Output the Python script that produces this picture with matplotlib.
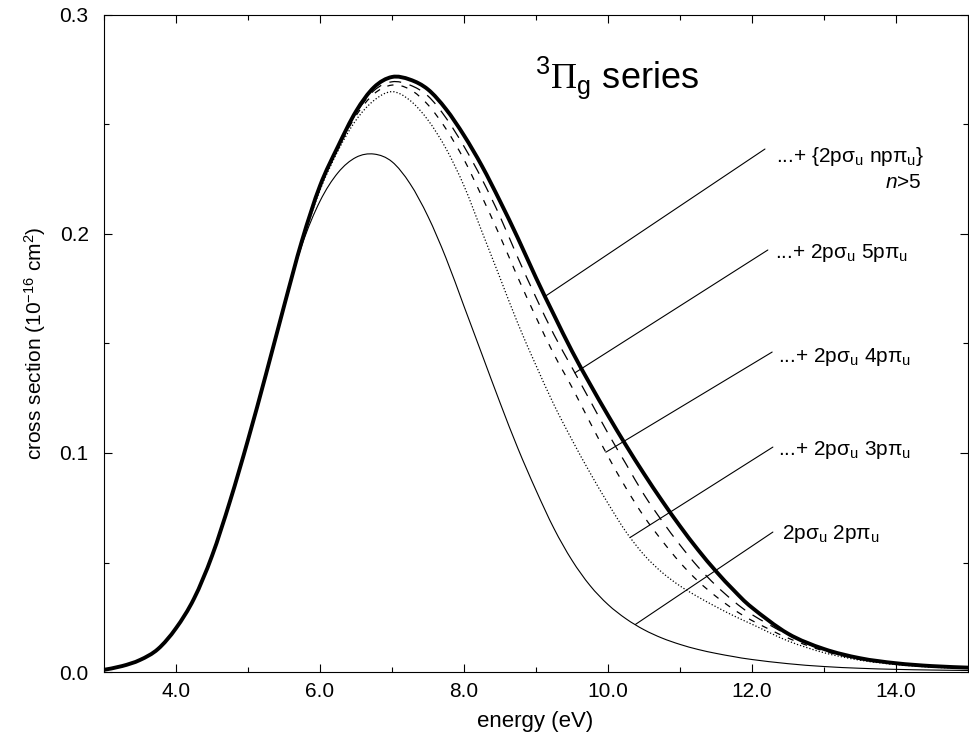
import numpy as np
import matplotlib
matplotlib.use("Agg")
import matplotlib.pyplot as plt
from matplotlib.path import Path
from matplotlib.patches import PathPatch
from matplotlib.ticker import MultipleLocator, FormatStrFormatter

plt.rcParams['font.family'] = 'Liberation Sans'
plt.rcParams['mathtext.fontset'] = 'custom'
plt.rcParams['mathtext.rm'] = 'Liberation Sans'
plt.rcParams['mathtext.it'] = 'Liberation Sans:italic'
plt.rcParams['mathtext.sf'] = 'Liberation Serif'

# energy grid (eV) and cross sections (1e-16 cm^2)
energy = [3.0, 3.25, 3.5, 3.75, 4.0, 4.25, 4.5, 4.75, 5.0, 5.25, 5.5, 5.75,
          6.0, 6.25, 6.5, 6.75, 7.0, 7.25, 7.5, 7.75, 8.0, 8.25, 8.5, 8.75,
          9.0, 9.25, 9.5, 9.75, 10.0, 10.25, 10.5, 10.75, 11.0, 11.25, 11.5,
          11.75, 12.0, 12.5, 13.0, 13.5, 14.0, 14.5, 15.0]

rise = [0.001, 0.0027, 0.0055, 0.0105, 0.020, 0.0335, 0.053, 0.078, 0.106, 0.136, 0.167]

total = rise + [0.197, 0.222, 0.240, 0.256, 0.267, 0.2717, 0.2705, 0.266, 0.257,
                0.245, 0.231, 0.215, 0.198, 0.180, 0.163, 0.1465, 0.1315, 0.1172,
                0.1035, 0.0905, 0.0782, 0.0666, 0.0558, 0.046, 0.0372, 0.0294,
                0.0175, 0.0105, 0.0063, 0.0040, 0.0027, 0.0020]

s2p = rise + [0.195, 0.215, 0.228, 0.235, 0.2365, 0.233, 0.223, 0.208, 0.189,
              0.167, 0.145, 0.123, 0.102, 0.083, 0.0655, 0.051, 0.0395, 0.0308,
              0.0243, 0.0193, 0.0155, 0.0126, 0.0103, 0.0085, 0.0070, 0.0057,
              0.0038, 0.0025, 0.0017, 0.0012, 0.0009, 0.0007]

s3p = rise + [0.196, 0.220, 0.238, 0.252, 0.261, 0.265, 0.261, 0.252, 0.239,
              0.222, 0.201, 0.180, 0.159, 0.140, 0.122, 0.106, 0.091, 0.077,
              0.064, 0.0535, 0.0455, 0.0393, 0.0343, 0.0298, 0.0256, 0.0218,
              0.0142, 0.0088, 0.0054, 0.0034, 0.0022, 0.0016]

s4p = rise + [0.197, 0.2215, 0.239, 0.254, 0.264, 0.268, 0.266, 0.259, 0.248,
              0.234, 0.217, 0.199, 0.180, 0.162, 0.145, 0.130, 0.114, 0.0985,
              0.084, 0.071, 0.060, 0.050, 0.0415, 0.0345, 0.0285, 0.0235,
              0.0155, 0.0096, 0.0057, 0.0036, 0.0024, 0.0018]

s5p = rise + [0.197, 0.222, 0.240, 0.255, 0.2655, 0.2695, 0.268, 0.263, 0.253,
              0.240, 0.225, 0.208, 0.189, 0.171, 0.154, 0.139, 0.124, 0.109,
              0.095, 0.081, 0.069, 0.058, 0.048, 0.0395, 0.0322, 0.0262,
              0.0170, 0.0100, 0.0060, 0.0038, 0.0025, 0.0019]

labels = [r"...+ {2pσ$_{\rm u}$ npπ$_{\rm u}$}",
          r"...+ 2pσ$_{\rm u}$ 5pπ$_{\rm u}$",
          r"...+ 2pσ$_{\rm u}$ 4pπ$_{\rm u}$",
          r"...+ 2pσ$_{\rm u}$ 3pπ$_{\rm u}$",
          r"2pσ$_{\rm u}$ 2pπ$_{\rm u}$"]
curves = [total, s5p, s4p, s3p, s2p]
pointer_e = [9.125, 9.54, 9.97, 10.31, 10.38]
line_end = [(12.18, 0.2388), (12.22, 0.1927), (12.28, 0.1461), (12.29, 0.1027), (12.29, 0.0639)]
text_pos = [(12.33, 0.2355), (12.32, 0.1913), (12.36, 0.1438), (12.36, 0.1014), (12.42, 0.0630)]


def smooth_path(x, y):
    # Catmull-Rom through the read points, drawn as cubic Bezier segments
    pts = np.column_stack([x, y])
    verts = [pts[0]]
    codes = [Path.MOVETO]
    n = len(pts)
    for i in range(n - 1):
        p0 = pts[max(i - 1, 0)]
        p1 = pts[i]
        p2 = pts[i + 1]
        p3 = pts[min(i + 2, n - 1)]
        verts += [p1 + (p2 - p0) / 6, p2 - (p3 - p1) / 6, p2]
        codes += [Path.CURVE4] * 3
    return Path(verts, codes)


fig = plt.figure(figsize=(9.7, 7.34), dpi=100)
ax = fig.add_axes([104 / 970, 62 / 734, 864 / 970, 657 / 734])

styles = [(s2p, 0.8, '-'),
          (s3p, 0.9, (0, (1, 1.6))),
          (s4p, 0.9, (0, (5, 6.5))),
          (s5p, 0.9, (0, (9.5, 7))),
          (total, 2.8, '-')]
for ys, lw, ls in styles:
    ax.add_patch(PathPatch(smooth_path(energy, ys), fill=False, edgecolor='black',
                           lw=lw, linestyle=ls, joinstyle='round', capstyle='butt'))

for lab, cur, e0, end, tp in zip(labels, curves, pointer_e, line_end, text_pos):
    y0 = np.interp(e0, energy, cur)
    ax.annotate('', xy=(e0, y0), xytext=end,
                arrowprops=dict(arrowstyle='-', lw=0.8, color='black',
                                shrinkA=0, shrinkB=0))
    ax.text(tp[0], tp[1], lab, fontsize=15, ha='left', va='center')

ax.text(14.36, 0.2237, r"$n$>5", fontsize=15, ha='right', va='center')
ax.text(8.98, 0.2667, r"$^{3}\mathsf{\Pi}_{\rm g}$ series", fontsize=26,
        ha='left', va='baseline')

ax.set_xlim(3, 15)
ax.set_ylim(0, 0.3)
ax.xaxis.set_major_locator(MultipleLocator(2))
ax.xaxis.set_minor_locator(MultipleLocator(1))
ax.yaxis.set_major_locator(MultipleLocator(0.1))
ax.yaxis.set_minor_locator(MultipleLocator(0.05))
ax.xaxis.set_major_formatter(FormatStrFormatter('%.1f'))
ax.yaxis.set_major_formatter(FormatStrFormatter('%.1f'))
ax.tick_params(which='both', direction='in', top=True, right=True, width=0.8)
ax.tick_params(which='major', length=6)
ax.tick_params(which='minor', length=3.3)
ax.tick_params(axis='x', which='major', labelsize=15, pad=7)
ax.tick_params(axis='y', which='major', labelsize=15, pad=11)
for sp in ax.spines.values():
    sp.set_linewidth(0.8)

ax.set_xlabel("energy (eV)", fontsize=16)
ax.set_ylabel(r"cross section (10$^{-16}$ cm$^{2}$)", fontsize=15)
ax.xaxis.set_label_coords(0.499, -0.076)
ax.xaxis.label.set_verticalalignment('center')
ax.yaxis.set_label_coords(-0.080, 0.5)
ax.yaxis.label.set_verticalalignment('center')

fig.savefig("out.png", dpi=100)
